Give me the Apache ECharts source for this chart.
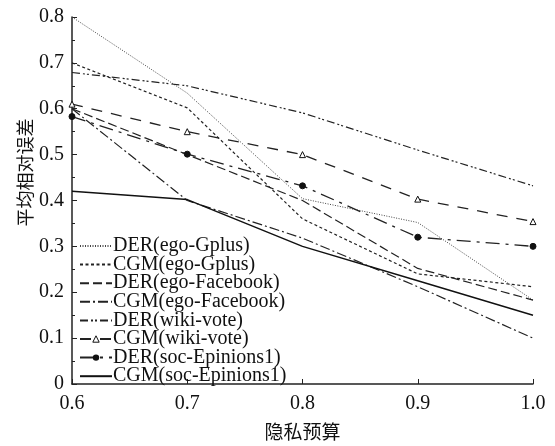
<!DOCTYPE html>
<html><head><meta charset="utf-8">
<script src="https://cdn.jsdelivr.net/npm/echarts@6/dist/echarts.min.js"></script>
<style>html,body{margin:0;padding:0;background:#fff}#c{width:555px;height:446px}</style>
</head><body><div id="c"></div>
<script>
const xLabels = ['0.6','0.7','0.8','0.9','1.0'];
const yTicks = [0,0.1,0.2,0.3,0.4,0.5,0.6,0.7,0.8];
const seriesNames = ['DER(ego-Gplus)','CGM(ego-Gplus)','DER(ego-Facebook)','CGM(ego-Facebook)','DER(wiki-vote)','CGM(wiki-vote)','DER(soc-Epinions1)','CGM(soc-Epinions1)'];
const derEgoGplus = [0.80,0.634,0.404,0.352,0.183];
const cgmEgoGplus = [0.70,0.602,0.36,0.24,0.212];
const derEgoFacebook = [0.60,0.50,0.40,0.252,0.183];
const cgmEgoFacebook = [0.60,0.40,0.318,0.212,0.10];
const derWikiVote = [0.679,0.65,0.591,0.51,0.432];
const cgmWikiVote = [0.61,0.55,0.50,0.403,0.354];
const derSocEpinions = [0.583,0.501,0.432,0.32,0.30];
const cgmSocEpinions = [0.42,0.402,0.30,0.225,0.15];

const dataList = [derEgoGplus,cgmEgoGplus,derEgoFacebook,cgmEgoFacebook,derWikiVote,cgmWikiVote,derSocEpinions,cgmSocEpinions];
const styles = [
  {type:[1,1.5], width:1, color:'#444'},
  {type:[3,2.5], width:1.2, color:'#222'},
  {type:[9,4], width:1.2, color:'#222'},
  {type:[10,3,2,3], width:1.2, color:'#222'},
  {type:[8,3,2,2,2,3], width:1.2, color:'#222'},
  {type:[11,9], width:1.3, color:'#222'},
  {type:[14,6,3,6], width:1.3, color:'#222'},
  {type:'solid', width:1.5, color:'#111'}
];
const symbols = ['none','none','none','none','none','triangle','circle','none'];

const serif = '"Liberation Serif","DejaVu Serif",serif';
const chart = echarts.init(document.getElementById('c'));
chart.setOption({
  animation:false,
  backgroundColor:'#fff',
  grid:{left:72,right:22,top:17,bottom:53},
  legend:{
    left:74, top:231, orient:'vertical', itemWidth:32, itemHeight:8, itemGap:-1.4,
    data: seriesNames.map((n,i)=>symbols[i]==='none'
      ? {name:n, itemStyle:{opacity:0}}
      : (symbols[i]==='triangle' ? {name:n, itemStyle:{color:'#fff',borderColor:'#111',borderWidth:1}} : {name:n})),
    textStyle:{fontFamily:serif, fontSize:20, color:'#111', padding:[0,0,0,-4]},
    inactiveColor:'#111'
  },
  xAxis:{
    type:'category', data:xLabels, boundaryGap:false,
    name:'隐私预算', nameLocation:'middle', nameGap:38,
    nameTextStyle:{fontFamily:'"Noto Sans CJK SC"', fontSize:19, color:'#111'},
    axisLine:{lineStyle:{color:'#222', width:1.5}},
    axisTick:{inside:true, length:5, alignWithLabel:true, lineStyle:{color:'#222'}},
    axisLabel:{fontFamily:serif, fontSize:20, color:'#111', margin:10},
    splitLine:{show:false}
  },
  yAxis:{
    type:'value', min:0, max:0.8, interval:0.1,
    name:'平均相对误差', nameLocation:'middle', nameGap:38, nameMoveOverlap:false,
    nameTextStyle:{fontFamily:'"Noto Sans CJK SC"', fontSize:18, color:'#111', padding:[0,0,0,56]},
    axisLine:{show:true, lineStyle:{color:'#222', width:1.5}},
    axisTick:{show:true, inside:true, length:5, lineStyle:{color:'#222'}},
    minorTick:{show:true, splitNumber:2, length:3, lineStyle:{color:'#222'}},
    axisLabel:{fontFamily:serif, fontSize:20, color:'#111', margin:8,
      formatter:v=>{const t=yTicks.find(k=>Math.abs(k-v)<1e-6); return t===0?'0':(t!==undefined?t.toFixed(1):'');}},
    splitLine:{show:false}
  },
  series: seriesNames.map((n,i)=>({
    name:n, type:'line', data:dataList[i],
    symbol:symbols[i], symbolSize:6,
    showSymbol: symbols[i]!=='none',
    lineStyle:styles[i],
    itemStyle: symbols[i]==='triangle'?{color:'#fff',borderColor:'#111',borderWidth:1}:{color:'#111',borderColor:'#111'},
    emphasis:{disabled:true}
  }))
});
</script></body></html>
